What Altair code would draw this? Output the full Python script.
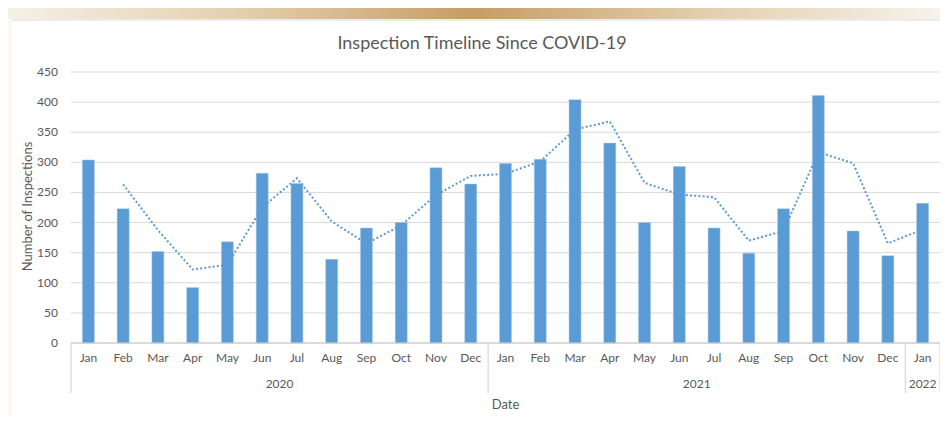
import altair as alt
import pandas as pd

months = ["Jan", "Feb", "Mar", "Apr", "May", "Jun", "Jul", "Aug", "Sep", "Oct", "Nov", "Dec",
          "Jan", "Feb", "Mar", "Apr", "May", "Jun", "Jul", "Aug", "Sep", "Oct", "Nov", "Dec",
          "Jan"]
years = ["2020"] * 12 + ["2021"] * 12 + ["2022"]
inspections = [304, 223, 152, 92, 168, 282, 265, 139, 191, 200, 291, 264,
               298, 305, 404, 332, 200, 293, 191, 149, 223, 411, 186, 145, 232]
y_ticks = [0, 50, 100, 150, 200, 250, 300, 350, 400, 450]

df = pd.DataFrame({"idx": list(range(len(months))), "month": months, "year": years,
                   "value": inspections})
df["center"] = df["idx"] + 0.5

yr = df.groupby("year", sort=True).agg(mid=("center", "mean"), start=("idx", "min")).reset_index()
bounds = pd.DataFrame({"b": list(yr["start"]) + [len(months)]})
ticks_df = pd.DataFrame({"t": y_ticks})

W, H = 869, 271
FONT = "Lato"
GREY = "#595959"
BLUE = "#5b9bd5"

xs = alt.Scale(domain=[0, len(months)], nice=False, zero=False, padding=0)
ys = alt.Scale(domain=[0, 450], nice=False, padding=0)

one = alt.Data(values=[{"a": 1}])

band = alt.Chart(one).mark_rect(
    color=alt.LinearGradient(
        gradient="linear", x1=0, x2=1, y1=0, y2=0,
        stops=[alt.GradientStop(color="#f6f0e6", offset=0),
               alt.GradientStop(color="#e3cfae", offset=0.25),
               alt.GradientStop(color="#c69d64", offset=0.5),
               alt.GradientStop(color="#e3cfae", offset=0.75),
               alt.GradientStop(color="#f7f2ea", offset=1)])
).encode(x=alt.value(-63), x2=alt.value(W), y=alt.value(-64), y2=alt.value(-53))

topline = alt.Chart(one).mark_rule(color="#d9d9d9", strokeWidth=1).encode(
    x=alt.value(-59), x2=alt.value(W), y=alt.value(-52))
leftstrip = alt.Chart(one).mark_rect(color="#fbf8f3").encode(
    x=alt.value(-63), x2=alt.value(-59), y=alt.value(-53), y2=alt.value(H + 80))

title = alt.Chart(one).mark_text(font=FONT, fontSize=18, color=GREY, baseline="middle",
                                 align="center").encode(
    x=alt.value(411), y=alt.value(-28), text=alt.value("Inspection Timeline Since COVID-19"))

ytitle = alt.Chart(one).mark_text(font=FONT, fontSize=13, color=GREY, angle=270,
                                  baseline="middle", align="center").encode(
    x=alt.value(-43), y=alt.value(H / 2 - 1), text=alt.value("Number of Inspections"))

xtitle = alt.Chart(one).mark_text(font=FONT, fontSize=13, color=GREY, baseline="middle",
                                  align="center").encode(
    x=alt.value(W / 2), y=alt.value(H + 62), text=alt.value("Date"))

grid = alt.Chart(ticks_df).mark_rule(color="#d9d9d9").encode(
    y=alt.Y("t:Q", scale=ys, axis=None), x=alt.value(0), x2=alt.value(W))

ylab = alt.Chart(ticks_df).mark_text(font=FONT, fontSize=12, color=GREY, align="right",
                                     baseline="middle").encode(
    y=alt.Y("t:Q", scale=ys, axis=None), x=alt.value(-13), text="t:Q")

base = alt.Chart(df)

bars = base.mark_bar(size=12, color=BLUE, stroke="#a9c9ea", strokeWidth=0.5).encode(
    x=alt.X("center:Q", scale=xs, axis=None),
    y=alt.Y("value:Q", scale=ys, axis=None),
    tooltip=["month", "year", "value"])

trend = base.transform_window(
    ma="mean(value)", n="count()", frame=[-1, 0], sort=[alt.SortField("idx")]
).transform_filter("datum.n == 2").mark_line(
    color=BLUE, strokeWidth=2, strokeDash=[2, 2.2]
).encode(x=alt.X("center:Q", scale=xs, axis=None), y=alt.Y("ma:Q", scale=ys, axis=None))

axisline = alt.Chart(one).mark_rule(color="#c8c8c8").encode(
    x=alt.value(0), x2=alt.value(W), y=alt.value(H))

seps = alt.Chart(bounds).mark_rule(color="#d0d0d0").encode(
    x=alt.X("b:Q", scale=xs, axis=None), y=alt.value(H), y2=alt.value(H + 50))

mlabels = base.mark_text(font=FONT, fontSize=12, color=GREY, baseline="middle").encode(
    x=alt.X("center:Q", scale=xs, axis=None), y=alt.value(H + 15), text="month:N")

ylabels = alt.Chart(yr).mark_text(font=FONT, fontSize=12, color=GREY, baseline="middle").encode(
    x=alt.X("mid:Q", scale=xs, axis=None), y=alt.value(H + 41), text="year:N")

chart = alt.layer(
    band, topline, leftstrip, title, ytitle, xtitle, grid, ylab,
    bars, trend, axisline, seps, mlabels, ylabels
).properties(
    width=W, height=H, autosize=alt.AutoSizeParams(type="none"),
    padding={"left": 63, "top": 64, "right": 0, "bottom": 74},
    background="white"
).configure_view(stroke=None)

chart.save("out.html", embed_options={"renderer": "svg", "actions": False})
